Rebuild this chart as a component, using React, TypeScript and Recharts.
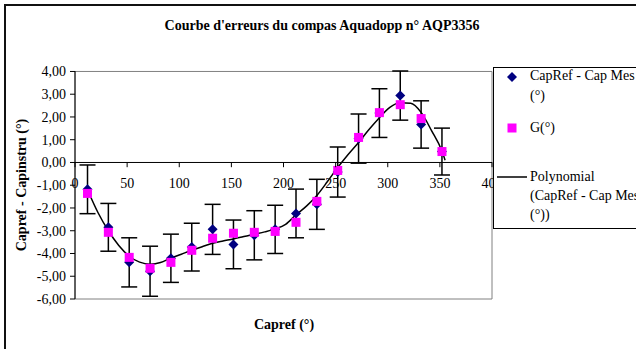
import { ComposedChart, Scatter, Line, XAxis, YAxis, ErrorBar, ReferenceLine, ReferenceArea } from 'recharts';

// compass headings (°) and errors
const capRef = [12, 32, 52, 72, 92, 112, 132, 152, 172, 192, 212, 232, 252, 272, 292, 312, 332, 352];
const capMes = [-1.18, -2.85, -4.39, -4.78, -4.21, -3.72, -2.94, -3.6, -3.2, -2.94, -2.24, -1.84, -0.42, 1.05, 2.17, 2.94, 1.67, 0.48];
const gDeg = [-1.36, -3.07, -4.17, -4.65, -4.39, -3.86, -3.33, -3.11, -3.07, -3.03, -2.63, -1.71, -0.35, 1.1, 2.19, 2.54, 1.93, 0.48];
const errMes = [1.07, 1.05, 1.08, 1.1, 1.06, 1.05, 1.1, 1.07, 1.08, 1.06, 1.07, 1.1, 1.1, 1.08, 1.07, 1.08, 1.04, 1.03];

// polynomial trend
const trendX = [12, 22, 32, 42, 52, 62, 72, 82, 92, 102, 112, 122, 132, 142, 152, 162, 172, 182, 192, 202, 212, 222, 232, 242, 252, 262, 272, 282, 292, 302, 312, 322, 332, 342, 352, 355];
const trendY = [-1.2, -2.2, -3.0, -3.65, -4.12, -4.38, -4.47, -4.4, -4.2, -4.03, -3.86, -3.7, -3.55, -3.45, -3.36, -3.25, -3.15, -3.05, -2.92, -2.72, -2.3, -1.92, -1.45, -0.85, -0.22, 0.35, 0.88, 1.45, 1.97, 2.42, 2.62, 2.6, 2.2, 1.4, 0.5, 0.1];

const xTicks = [0, 50, 100, 150, 200, 250, 300, 350, 400];
const yTicks = [-6, -5, -4, -3, -2, -1, 0, 1, 2, 3, 4];

const mesData = capRef.map((x, i) => ({ x, y: capMes[i], err: errMes[i] }));
const gData = capRef.map((x, i) => ({ x, y: gDeg[i] }));
const trendData = trendX.map((x, i) => ({ x, y: trendY[i] }));

const FONT = "'Liberation Serif', serif";
const W = 636;
const H = 349;
const M = { top: 71, right: 144, bottom: 20, left: 15 };
const X_H = 30;
const PLOT_H = H - M.top - M.bottom - X_H;
const ZERO_Y = M.top + (PLOT_H * 4) / 10;

const fmt = (v: number) => v.toFixed(2).replace('.', ',');

function XTick(props: any) {
  const { x, payload } = props;
  return (
    <g>
      <line x1={x} x2={x} y1={ZERO_Y} y2={ZERO_Y + 5} stroke="#000" />
      <text x={x} y={ZERO_Y + 26} textAnchor="middle" fontFamily={FONT} fontSize={14} fill="#000">
        {payload.value}
      </text>
    </g>
  );
}

function YTick(props: any) {
  const { x, y, payload } = props;
  return (
    <text x={x} y={y + 5} textAnchor="end" fontFamily={FONT} fontSize={14} fill="#000">
      {fmt(payload.value)}
    </text>
  );
}

const Diamond = (p: any) => (
  <polygon
    points={`${p.cx},${p.cy - 5} ${p.cx + 5},${p.cy} ${p.cx},${p.cy + 5} ${p.cx - 5},${p.cy}`}
    fill="#000080"
  />
);
const Square = (p: any) => <rect x={p.cx - 4.5} y={p.cy - 4.5} width={9} height={9} fill="#FF00FF" />;

const txt = { position: 'absolute' as const, fontFamily: FONT, fontSize: 14, color: '#000', lineHeight: '16px', whiteSpace: 'nowrap' as const };

export default function App() {
  return (
    <div style={{ position: 'absolute', left: 0, top: 0, width: W, height: H, overflow: 'hidden', background: '#fff' }}>
      <div style={{ position: 'absolute', left: 4, top: 4, width: 700, height: 400, borderLeft: '2px solid #111', borderTop: '2px solid #111' }} />
      <div style={{ ...txt, left: 0, width: 644, top: 18, textAlign: 'center', fontWeight: 'bold' }}>
        Courbe d'erreurs du compas Aquadopp n° AQP3356
      </div>
      <div style={{ position: 'absolute', left: 0, top: 0 }}>
        <ComposedChart width={W} height={H} margin={M}>
          <ReferenceArea x1={0} x2={400} y1={-6} y2={4} fill="none" stroke="#808080" strokeWidth={1} ifOverflow="visible" />
          <XAxis
            dataKey="x"
            type="number"
            domain={[0, 400]}
            ticks={xTicks}
            axisLine={false}
            tickLine={false}
            tick={XTick}
            height={X_H}
            interval={0}
          />
          <YAxis
            dataKey="y"
            type="number"
            domain={[-6, 4]}
            ticks={yTicks}
            width={60}
            interval={0}
            stroke="#000"
            tickSize={5}
            tickMargin={4}
            tick={YTick}
          />
          <ReferenceLine y={0} stroke="#000" strokeWidth={1} />
          <Scatter data={mesData} dataKey="y" shape={Diamond} isAnimationActive={false}>
            <ErrorBar dataKey="err" direction="y" width={8} stroke="#000" strokeWidth={1.5} />
          </Scatter>
          <Line data={trendData} dataKey="y" type="monotone" stroke="#000" strokeWidth={1.5} dot={false} activeDot={false} isAnimationActive={false} />
          <Scatter data={gData} dataKey="y" shape={Square} isAnimationActive={false} />
        </ComposedChart>
      </div>
      <div
        style={{
          ...txt,
          left: 22,
          top: 185,
          fontWeight: 'bold',
          transform: 'translate(-50%, -50%) rotate(-90deg)',
        }}
      >
        Capref - Capinstru (°)
      </div>
      <div style={{ ...txt, left: 284, top: 325, fontWeight: 'bold', transform: 'translate(-50%, -50%)' }}>Capref (°)</div>

      <div style={{ position: 'absolute', left: 493, top: 67, width: 200, height: 160, border: '1px solid #000', background: '#fff' }} />
      <svg style={{ position: 'absolute', left: 0, top: 0 }} width={W} height={H}>
        <polygon points="512,72 517,77 512,82 507,77" fill="#000080" />
        <rect x={507.5} y={123.5} width={9} height={9} fill="#FF00FF" />
        <line x1={497} x2={527} y1={177} y2={177} stroke="#000" strokeWidth={1.5} />
      </svg>
      <div style={{ ...txt, left: 530, top: 68 }}>CapRef - Cap Mes</div>
      <div style={{ ...txt, left: 530, top: 88 }}>(°)</div>
      <div style={{ ...txt, left: 530, top: 120 }}>G(°)</div>
      <div style={{ ...txt, left: 530, top: 169 }}>Polynomial</div>
      <div style={{ ...txt, left: 530, top: 188 }}>(CapRef - Cap Mes</div>
      <div style={{ ...txt, left: 530, top: 207 }}>(°))</div>
    </div>
  );
}
